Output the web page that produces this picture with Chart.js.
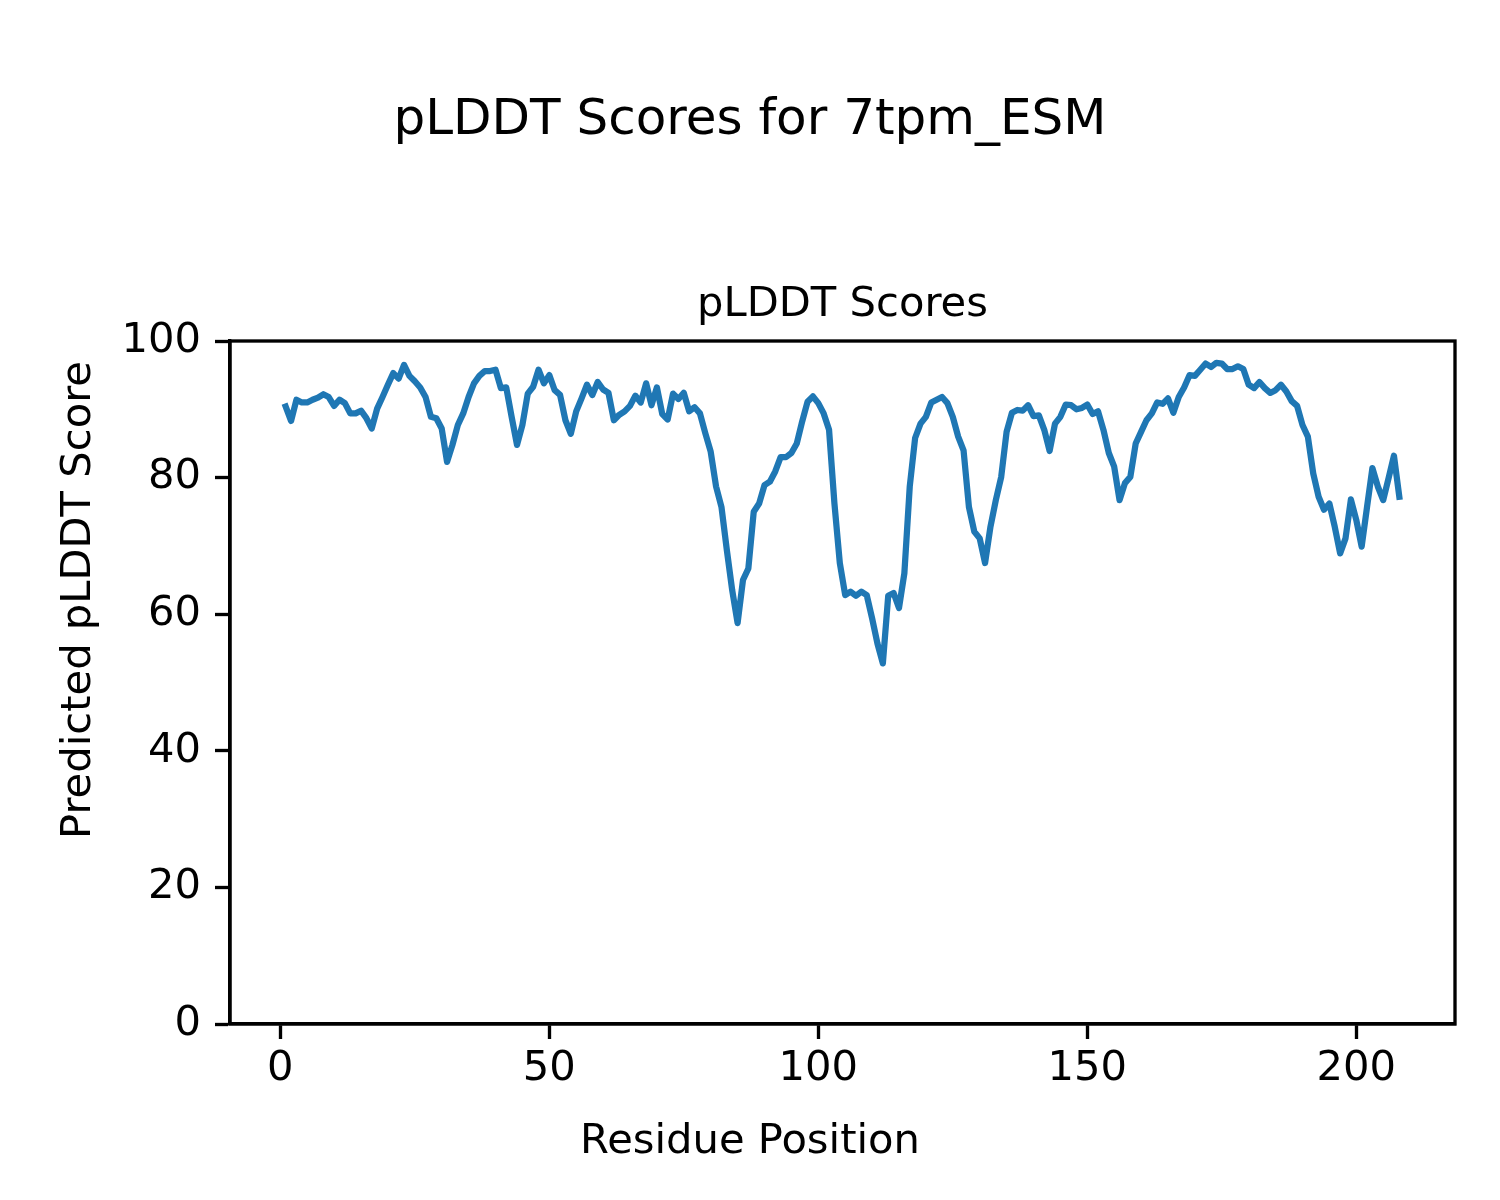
<!DOCTYPE html>
<html>
<head>
<meta charset="utf-8">
<title>pLDDT Scores for 7tpm_ESM</title>
<script src="https://cdn.jsdelivr.net/npm/chart.js@4.4.1/dist/chart.umd.min.js"></script>
<style>
  html, body { margin: 0; padding: 0; background: #fff; }
  canvas { display: block; }
</style>
</head>
<body>
<canvas id="plddtChart" width="1500" height="1200"></canvas>
<script>
// ---- data ----
const plddt = [
  90.4, 88.3, 91.4, 91.0, 91.0, 91.4, 91.7, 92.2, 91.8, 90.5,
  91.4, 90.9, 89.4, 89.4, 89.8, 88.7, 87.2, 90.1, 91.8, 93.6,
  95.3, 94.5, 96.5, 94.9, 94.1, 93.2, 91.8, 88.9, 88.7, 87.2,
  82.3, 84.8, 87.7, 89.4, 91.8, 93.8, 94.9, 95.6, 95.6, 95.8,
  93.1, 93.2, 88.9, 84.8, 87.7, 92.3, 93.3, 95.8, 93.8, 95.0,
  92.8, 92.1, 88.4, 86.4, 89.7, 91.6, 93.6, 92.1, 94.0, 92.9,
  92.4, 88.4, 89.2, 89.7, 90.5, 92.0, 91.0, 93.8, 90.6, 93.2,
  89.3, 88.5, 92.3, 91.5, 92.4, 89.7, 90.3, 89.4, 86.5, 83.8,
  78.7, 75.7, 69.4, 63.5, 58.7, 65.0, 66.7, 75.0, 76.2, 78.9,
  79.4, 80.9, 83.0, 83.0, 83.6, 85.0, 88.2, 91.1, 91.9, 90.9,
  89.4, 87.0, 76.2, 67.5, 62.8, 63.3, 62.7, 63.3, 62.8, 59.4,
  55.7, 52.8, 62.7, 63.1, 60.9, 66.0, 78.7, 85.8, 87.9, 88.9,
  91.0, 91.4, 91.8, 90.9, 88.9, 86.0, 84.0, 75.7, 72.1, 71.1,
  67.5, 72.8, 76.7, 80.1, 86.7, 89.5, 89.9, 89.8, 90.6, 89.0,
  89.1, 87.0, 83.9, 87.9, 88.9, 90.7, 90.6, 90.0, 90.2, 90.7,
  89.3, 89.7, 87.0, 83.6, 81.6, 76.7, 79.2, 80.1, 85.0, 86.7,
  88.4, 89.4, 91.0, 90.8, 91.6, 89.5, 91.8, 93.2, 95.0, 94.9,
  95.8, 96.7, 96.2, 96.8, 96.7, 95.9, 95.9, 96.3, 95.9, 93.6,
  93.1, 94.0, 93.1, 92.4, 92.8, 93.6, 92.6, 91.2, 90.5, 87.7,
  86.0, 80.6, 77.2, 75.3, 76.2, 72.8, 68.9, 71.1, 76.8, 73.8,
  69.9, 75.7, 81.4, 78.7, 76.7, 79.9, 83.2, 77.2
];
// residue numbers start at 1
const residues = plddt.map((_, i) => i + 1);

const xTicks = [0, 50, 100, 150, 200];
const yTicks = [0, 20, 40, 60, 80, 100];

const figTitle = "pLDDT Scores for 7tpm_ESM";
const axTitle = "pLDDT Scores";
const xLabel = "Residue Position";
const yLabel = "Predicted pLDDT Score";

// ---- look ----
const FONT = "DejaVu Sans";
const PX10 = 41.67;   // 10pt @ 300dpi
const PX12 = 50;      // 12pt @ 300dpi
const SPINE = 3.33;

Chart.defaults.font.family = FONT;
Chart.defaults.color = "#000";

// full box around the axes + figure-level axis labels (supxlabel / supylabel)
const figureDecor = {
  id: "figureDecor",
  afterDraw(chart) {
    const { ctx, chartArea: a } = chart;
    ctx.save();
    ctx.strokeStyle = "#000";
    ctx.lineWidth = SPINE;
    ctx.strokeRect(a.left, a.top, a.right - a.left, a.bottom - a.top);

    ctx.fillStyle = "#000";
    ctx.font = `${PX10}px "${FONT}"`;
    ctx.textAlign = "center";
    ctx.textBaseline = "alphabetic";
    ctx.fillText(xLabel, 750, 1153);

    ctx.translate(90, 600);
    ctx.rotate(-Math.PI / 2);
    ctx.fillText(yLabel, 0, 0);
    ctx.restore();
  }
};

new Chart(document.getElementById("plddtChart"), {
  type: "line",
  data: {
    datasets: [{
      label: "pLDDT",
      data: residues.map((r, i) => ({ x: r, y: plddt[i] })),
      borderColor: "#1f77b4",
      borderWidth: 6.25,
      borderJoinStyle: "round",
      borderCapStyle: "square",
      pointRadius: 0,
      tension: 0,
      fill: false
    }]
  },
  options: {
    responsive: false,
    animation: false,
    devicePixelRatio: 1,
    // symmetric side padding keeps the figure title centred on the page
    layout: { padding: { left: 45, right: 45, top: 0, bottom: 0 } },
    plugins: {
      legend: { display: false },
      tooltip: { enabled: false },
      title: {
        display: true,
        text: figTitle,
        color: "#000",
        font: { size: PX12, weight: "normal", lineHeight: 1.2 },
        padding: { top: 91, bottom: 129 }
      },
      subtitle: {
        display: true,
        text: axTitle,
        color: "#000",
        fullSize: false,
        font: { size: PX10, weight: "normal", lineHeight: 1.2 },
        padding: { top: 0, bottom: 11 }
      }
    },
    scales: {
      x: {
        type: "linear",
        min: -9.35,
        max: 218.35,
        afterFit(scale) { scale.height = 176; },
        afterBuildTicks(scale) { scale.ticks = xTicks.map(v => ({ value: v })); },
        grid: {
          drawOnChartArea: false,
          drawTicks: true,
          tickLength: 15,
          tickWidth: SPINE,
          tickColor: "#000"
        },
        border: { display: true, color: "#000", width: SPINE },
        ticks: {
          color: "#000",
          font: { size: PX10 },
          padding: 5,
          maxRotation: 0,
          autoSkip: false
        }
      },
      y: {
        min: 0,
        max: 100,
        afterFit(scale) { scale.width = 185; },
        afterBuildTicks(scale) { scale.ticks = yTicks.map(v => ({ value: v })); },
        grid: {
          drawOnChartArea: false,
          drawTicks: true,
          tickLength: 15,
          tickWidth: SPINE,
          tickColor: "#000"
        },
        border: { display: true, color: "#000", width: SPINE },
        ticks: {
          color: "#000",
          font: { size: PX10 },
          padding: 14,
          autoSkip: false
        }
      }
    }
  },
  plugins: [figureDecor]
});
</script>
</body>
</html>
